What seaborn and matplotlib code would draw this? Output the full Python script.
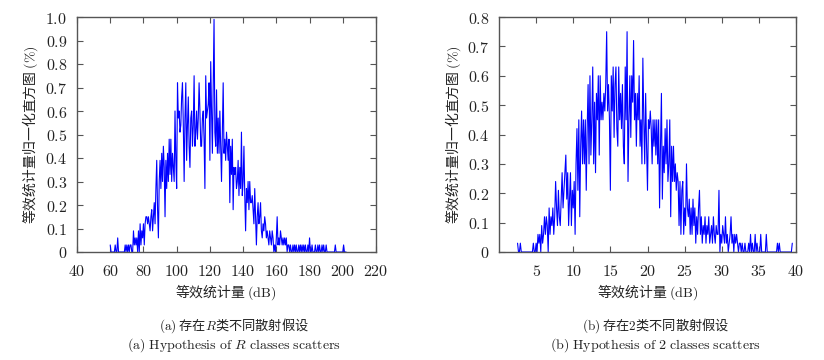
import numpy as np
import pandas as pd
import matplotlib
matplotlib.use("Agg")
import matplotlib.pyplot as plt
import seaborn as sns

# ---------------- data ----------------
left_start, left_step = 60.0, 0.5
left_values = [
    .03, 0, 0, 0, 0, 0, .03, 0, 0, .06,
    0, 0, 0, 0, 0, 0, 0, 0, .03, 0,
    .03, 0, .03, 0, .03, .03, 0, 0, .09, .03,
    .06, .03, .06, 0, .09, 0, .12, .03, .09, .06,
    .12, .03, .12, .15, .15, .12, .15, .12, .09, .15,
    .18, .09, .15, .21, .12, .27, .39, .18, .06, .30,
    .39, .27, .42, .30, .45, .36, .15, .39, .27, .42,
    .30, .48, .33, .48, .30, .42, .36, .30, .60, .39,
    .27, .72, .57, .60, .51, .54, .66, .72, .54, .30,
    .57, .72, .39, .54, .66, .45, .36, .57, .60, .45,
    .54, .75, .45, .51, .60, .48, .57, .72, .60, .45,
    .45, .57, .60, .48, .27, .75, .57, .60, .63, .72,
    .39, .81, .60, .42, .72, .99, .51, .45, .69, .42,
    .57, .42, .60, .45, .30, .51, .72, .42, .48, .39,
    .51, .45, .39, .48, .21, .45, .33, .48, .18, .36,
    .33, .36, .27, .30, .39, .24, .36, .27, .51, .24,
    .30, .45, .24, .09, .27, .21, .30, .18, .30, .21,
    .21, .24, .18, .12, .27, .15, .03, .15, .21, .12,
    .15, .21, .09, .06, .12, .09, .15, .12, .06, .09,
    .06, .03, .09, .06, .03, .09, .06, 0, .03, 0,
    .06, .15, .03, .06, .03, .09, .06, .03, .06, .03,
    .06, .03, .06, 0, .03, .03, 0, .03, 0, 0,
    .03, 0, .03, 0, .03, 0, 0, .03, 0, .03,
    0, .03, 0, .03, 0, .03, 0, 0, .03, 0,
    .06, 0, 0, .03, 0, 0, 0, .03, 0, 0,
    .03, 0, .03, 0, 0, .03, 0, .03, 0, 0,
    .03, 0, 0, 0, 0, 0, 0, 0, 0, 0,
    0, .03, 0, 0, 0, 0, 0, 0, 0, 0,
    0, .03, 0, 0, 0,
]
left_x = left_start + left_step * np.arange(len(left_values))

right_start, right_step = 2.5, 0.125
right_values = [
    .03, 0, 0, .03, 0, 0, 0, 0,
    0, 0, 0, 0, 0, 0, 0, 0,
    0, .03, 0, 0, .03, 0, .06, .03,
    .06, 0, .09, .03, .06, .12, .06, .12,
    .09, 0, .15, .06, .12, .09, .15, .06,
    .12, .24, .15, .09, .21, .12, .09, .18,
    .27, .15, .21, .27, .33, .18, .27, .09,
    .18, .27, .09, .21, .15, .24, .06, .30,
    .42, .21, .45, .12, .36, .48, .30, .45,
    .30, .45, .21, .42, .57, .30, .60, .33,
    .45, .63, .30, .51, .27, .54, .45, .60,
    .33, .60, .45, .51, .45, .54, .48, .57,
    .75, .48, .57, .45, .21, .60, .48, .63,
    .39, .57, .63, .42, .36, .63, .45, .54,
    .42, .57, .36, .30, .63, .45, .75, .24,
    .45, .60, .39, .60, .51, .72, .45, .54,
    .36, .54, .45, .60, .36, .45, .30, .66,
    .45, .30, .54, .36, .21, .45, .42, .48,
    .42, .30, .45, .36, .45, .33, .45, .30,
    .45, .15, .36, .54, .18, .36, .27, .42,
    .30, .45, .24, .30, .45, .12, .36, .24,
    .36, .24, .30, .21, .27, .24, .09, .24,
    .06, .21, .24, .06, .15, .09, .30, .15,
    .12, .18, .06, .15, .06, .18, .09, .15,
    .03, .12, .06, .15, .21, .06, .12, .03,
    .09, .06, .12, .03, .09, .06, .12, .03,
    .06, .09, .03, .12, .06, .03, .09, .06,
    .06, .21, 0, .06, .03, .09, .06, .03,
    .12, .03, .06, 0, .03, .06, .12, .03,
    .06, 0, .06, .03, .06, .03, 0, .03,
    .03, 0, .03, 0, 0, .03, 0, 0,
    0, .03, 0, .06, 0, .03, 0, 0,
    .06, 0, .03, 0, 0, 0, .06, 0,
    0, 0, 0, 0, .06, 0, 0, 0,
    0, 0, 0, 0, 0, 0, 0, 0,
    .03, 0, .03, 0, 0, 0, 0, 0,
    0, 0, 0, 0, 0, 0, 0, 0,
    .03,
]
right_x = right_start + right_step * np.arange(len(right_values))

left_xticks = [40, 60, 80, 100, 120, 140, 160, 180, 200, 220]
left_yticks = [0, 0.1, 0.2, 0.3, 0.4, 0.5, 0.6, 0.7, 0.8, 0.9, 1.0]
left_ylabels = ["0", "0.1", "0.2", "0.3", "0.4", "0.5", "0.6", "0.7", "0.8", "0.9", "1.0"]
right_xticks = [5, 10, 15, 20, 25, 30, 35, 40]
right_yticks = [0, 0.1, 0.2, 0.3, 0.4, 0.5, 0.6, 0.7, 0.8]
right_ylabels = ["0", "0.1", "0.2", "0.3", "0.4", "0.5", "0.6", "0.7", "0.8"]

xlabel_text = r"等效统计量 $\mathrm{(dB)}$"
ylabel_text = r"等效统计量归一化直方图 $\mathrm{(\%)}$"
cap_a_cn = r"$\mathrm{(a)}$ 存在$R$类不同散射假设"
cap_a_en = r"$\mathrm{(a)\ Hypothesis\ of\ }R\mathrm{\ classes\ scatters}$"
cap_b_cn = r"$\mathrm{(b)}$ 存在$\mathrm{2}$类不同散射假设"
cap_b_en = r"$\mathrm{(b)\ Hypothesis\ of\ 2\ classes\ scatters}$"

# ---------------- style ----------------
sns.set_theme(style="ticks")
plt.rcParams["font.family"] = ["Noto Sans CJK SC", "DejaVu Sans"]
plt.rcParams["mathtext.fontset"] = "cm"
plt.rcParams["axes.unicode_minus"] = False

W, H = 824, 360
fig = plt.figure(figsize=(W / 100, H / 100), dpi=100)
fig.patch.set_facecolor("white")

def axrect(l, t, r, b):
    return [l / W, 1 - b / H, (r - l) / W, (b - t) / H]

ax1 = fig.add_axes(axrect(77, 17, 376, 252))
ax2 = fig.add_axes(axrect(499, 17, 796, 252))

df1 = pd.DataFrame({"x": left_x, "y": left_values})
df2 = pd.DataFrame({"x": right_x, "y": right_values})
sns.lineplot(data=df1, x="x", y="y", ax=ax1, color="#0000ff", linewidth=0.8, estimator=None)
sns.lineplot(data=df2, x="x", y="y", ax=ax2, color="#0000ff", linewidth=0.8, estimator=None)

def tick_fmt(vals):
    return ["$\\mathrm{%s}$" % v for v in vals]

for ax, xt, xl, yt, yl, xlim, ylim in [
    (ax1, left_xticks, [str(v) for v in left_xticks], left_yticks, left_ylabels, (40, 220), (0, 1.0)),
    (ax2, right_xticks, [str(v) for v in right_xticks], right_yticks, right_ylabels, (0, 40), (0, 0.8)),
]:
    ax.set_xlim(*xlim)
    ax.set_ylim(*ylim)
    ax.set_xticks(xt)
    ax.set_xticklabels(tick_fmt(xl))
    ax.set_yticks(yt)
    ax.set_yticklabels(tick_fmt(yl))
    ax.set_xlabel("")
    ax.set_ylabel("")
    ax.tick_params(direction="in", top=True, right=True, length=4, width=0.8,
                   color="#555555", labelsize=11.5, labelcolor="#222222")
    ax.tick_params(axis="y", pad=7)
    ax.tick_params(axis="x", pad=8)
    for s in ax.spines.values():
        s.set_color("#555555")
        s.set_linewidth(1.0)
    ax.set_facecolor("white")

fs_label = 10
fs_cap = 9.5
fig.text(30 / W, 1 - 135 / H, ylabel_text, rotation=90, ha="center", va="center",
         fontsize=fs_label, color="#222222")
fig.text(453 / W, 1 - 135 / H, ylabel_text, rotation=90, ha="center", va="center",
         fontsize=fs_label, color="#222222")
fig.text(226 / W, 1 - 292 / H, xlabel_text, ha="center", va="center",
         fontsize=fs_label, color="#222222")
fig.text(648 / W, 1 - 292 / H, xlabel_text, ha="center", va="center",
         fontsize=fs_label, color="#222222")

fig.text(234 / W, 1 - 326 / H, cap_a_cn, ha="center", va="center", fontsize=fs_cap, color="#222222")
fig.text(234 / W, 1 - 345 / H, cap_a_en, ha="center", va="center", fontsize=fs_cap + 0.5, color="#222222")
fig.text(656 / W, 1 - 326 / H, cap_b_cn, ha="center", va="center", fontsize=fs_cap, color="#222222")
fig.text(656 / W, 1 - 345 / H, cap_b_en, ha="center", va="center", fontsize=fs_cap + 0.5, color="#222222")

fig.savefig("out.png", dpi=100, facecolor="white")
